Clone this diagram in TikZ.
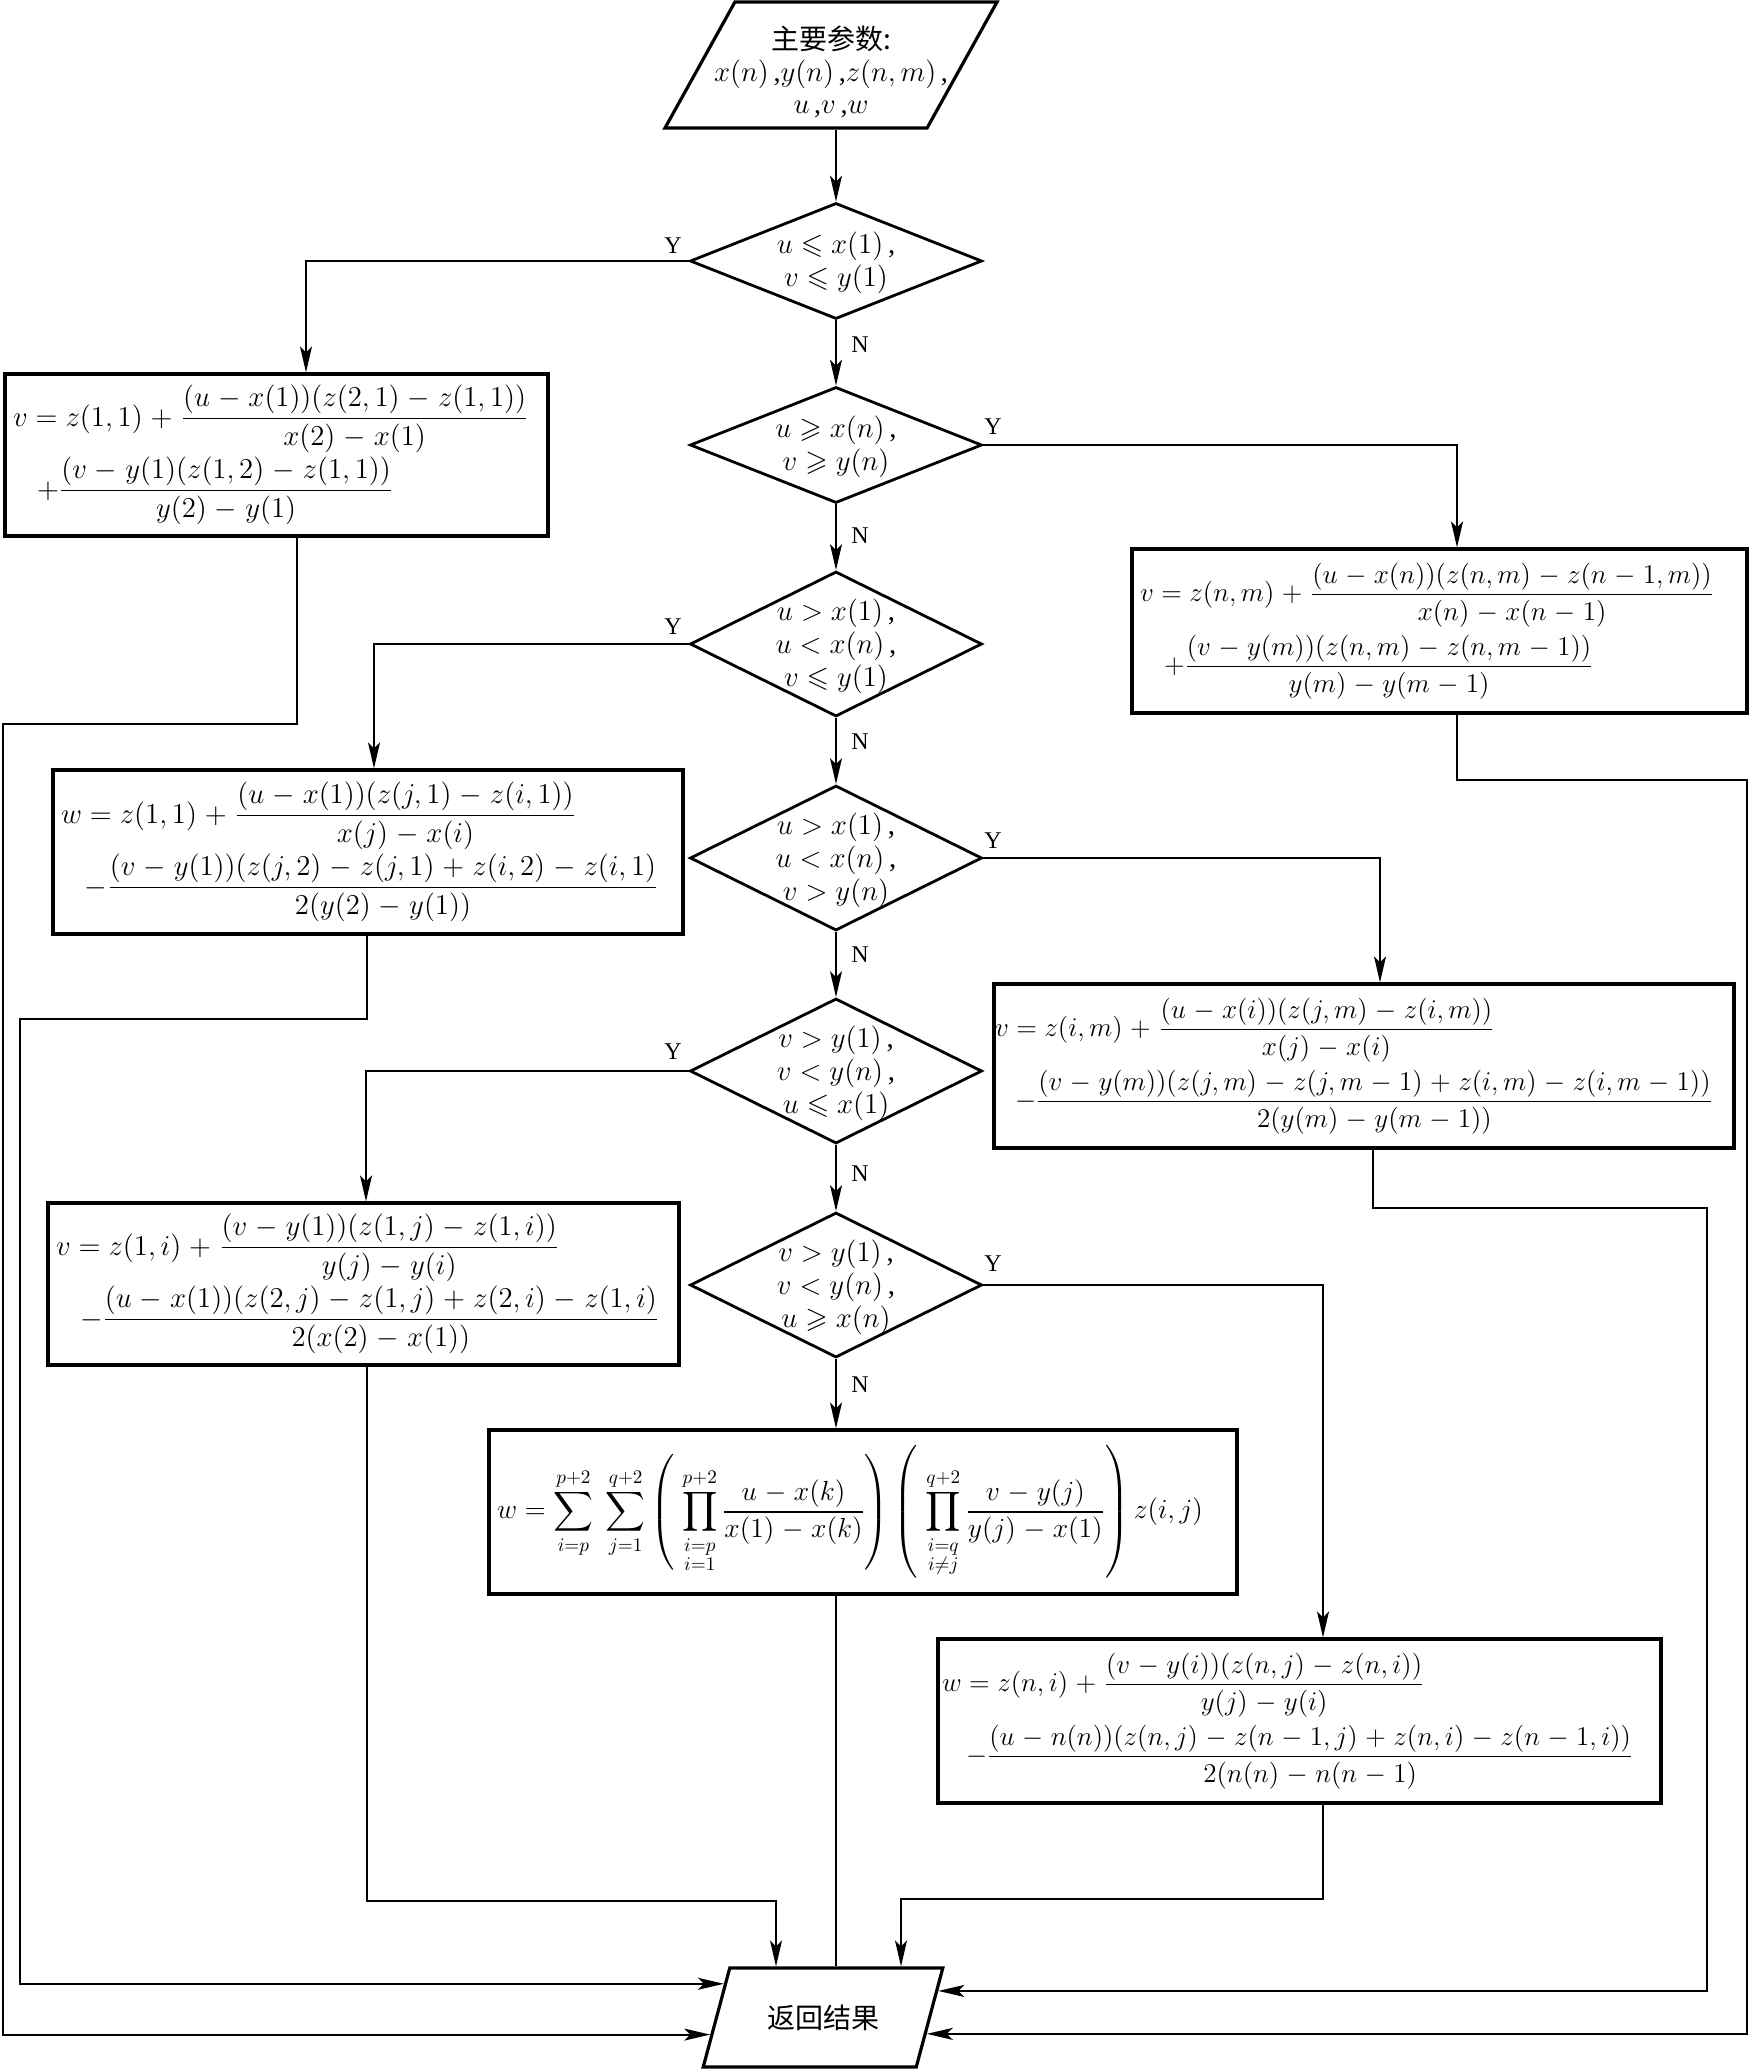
\documentclass[tikz,border=0pt]{standalone}
\usepackage{amsmath,amssymb}
\usepackage{graphicx}
\usepackage{fontspec}
\setmainfont{Liberation Serif}
\newfontfamily\cjk{Noto Sans CJK SC}
\usetikzlibrary{shapes.geometric,arrows.meta,calc}
\medmuskip=5mu plus 2mu minus 2mu
\newcommand{\dtext}[2][-5pt]{\smash{\makebox[0pt]{\raisebox{#1}{\begin{tabular}{@{}c@{}}#2\end{tabular}}}}}
\newcommand{\fl}[1]{\mbox{$#1$}}
\newcommand{\fls}[1]{\scalebox{0.94}{$#1$}}
\tikzset{
  box/.style={draw, line width=1.6pt, inner ysep=0pt, inner xsep=4pt, align=left, font=\fontsize{14.4}{36}\selectfont},
  dec/.style={draw, diamond, line width=1.4pt, inner sep=0.5pt, minimum width=146pt, font=\fontsize{14.4}{16.5}\selectfont},
  io/.style={draw, trapezium, trapezium stretches=true, line width=1.6pt, inner sep=1pt},
  arr/.style={line width=1pt, -{Stealth[length=13pt,width=6pt,inset=3pt]}},
  ln/.style={line width=1pt},
  yn/.style={font=\fontsize{12}{14}\selectfont, inner sep=0pt},
}
\begin{document}
\begin{tikzpicture}[x=0.5pt,y=-0.5pt]
\useasboundingbox (0,0) rectangle (1751,2070);

% input / output
\node[io, trapezium left angle=70, trapezium right angle=110, minimum width=166pt, minimum height=63pt, font=\fontsize{14}{16}\selectfont] (in) at (831,65)
  {\dtext[-8.5pt]{{\cjk 主要参数:}\\ $x(n)$\,,$y(n)$\,,$z(n,m)$\,,\\ $u$\,,$v$\,,$w$}};
\node[io, trapezium left angle=61, trapezium right angle=119, minimum width=120pt, minimum height=49.5pt] (ret) at (823,2017.5)
  {\cjk\fontsize{14}{16}\selectfont 返回结果};

% decisions
\node[dec, minimum height=58pt] (d1) at (836,261) {\dtext{$u\leqslant x(1)$\,,\\ $v\leqslant y(1)$}};
\node[dec, minimum height=58pt] (d2) at (836,445) {\dtext{$u\geqslant x(n)$\,,\\ $v\geqslant y(n)$}};
\node[dec, minimum height=72.5pt] (d3) at (836,644) {\dtext{$u>x(1)$\,,\\ $u<x(n)$\,,\\ $v\leqslant y(1)$}};
\node[dec, minimum height=72.5pt] (d4) at (836,858) {\dtext{$u>x(1)$\,,\\ $u<x(n)$\,,\\ $v>y(n)$}};
\node[dec, minimum height=72.5pt] (d5) at (836,1071) {\dtext{$v>y(1)$\,,\\ $v<y(n)$\,,\\ $u\leqslant x(1)$}};
\node[dec, minimum height=72.5pt] (d6) at (836,1285) {\dtext{$v>y(1)$\,,\\ $v<y(n)$\,,\\ $u\geqslant x(n)$}};

% process boxes
\node[box, text width=263.5pt, minimum height=81pt] (A) at (276.5,455)
  {\fl{v=z(1,1)+\dfrac{(u-x(1))(z(2,1)-z(1,1))}{x(2)-x(1)}}\\
   \hspace*{12pt}\fl{+\dfrac{(v-y(1)(z(1,2)-z(1,1))}{y(2)-y(1)}}};
\node[box, text width=307pt, minimum height=82pt] (B) at (368,852)
  {\fl{w=z(1,1)+\dfrac{(u-x(1))(z(j,1)-z(i,1))}{x(j)-x(i)}}\\
   \hspace*{12pt}\fl{-\dfrac{(v-y(1))(z(j,2)-z(j,1)+z(i,2)-z(i,1)}{2(y(2)-y(1))}}};
\node[box, text width=307.5pt, minimum height=81pt] (C) at (363.5,1284)
  {\fl{v=z(1,i)+\dfrac{(v-y(1))(z(1,j)-z(1,i))}{y(j)-y(i)}}\\
   \hspace*{12pt}\fl{-\dfrac{(u-x(1))(z(2,j)-z(1,j)+z(2,i)-z(1,i)}{2(x(2)-x(1))}}};
\node[box, text width=299.5pt, minimum height=82pt] (R1) at (1439.5,631)
  {\fls{v=z(n,m)+\dfrac{(u-x(n))(z(n,m)-z(n-1,m))}{x(n)-x(n-1)}}\\
   \hspace*{12pt}\fls{+\dfrac{(v-y(m))(z(n,m)-z(n,m-1))}{y(m)-y(m-1)}}};
\node[box, text width=369pt, minimum height=82pt, inner xsep=0.5pt] (R2) at (1364,1066)
  {\fls{v=z(i,m)+\dfrac{(u-x(i))(z(j,m)-z(i,m))}{x(j)-x(i)}}\\
   \hspace*{10pt}\fls{-\dfrac{(v-y(m))(z(j,m)-z(j,m-1)+z(i,m)-z(i,m-1))}{2(y(m)-y(m-1))}}};
\node[box, text width=366pt, minimum height=82pt] (S) at (863,1512)
  {\scalebox{0.96}{$\displaystyle w=\sum_{i=p}^{p+2}\;\sum_{j=1}^{q+2}\left(\;\prod_{\substack{i=p\\ i=1}}^{p+2}\frac{u-x(k)}{x(1)-x(k)}\right)\left(\;\prod_{\substack{i=q\\ i\neq j}}^{q+2}\frac{v-y(j)}{y(j)-x(1)}\right)z(i,j)$}};
\node[box, text width=357.5pt, minimum height=82pt, inner xsep=2pt] (R3) at (1299.5,1721)
  {\fls{w=z(n,i)+\dfrac{(v-y(i))(z(n,j)-z(n,i))}{y(j)-y(i)}}\\
   \hspace*{12pt}\fls{-\dfrac{(u-n(n))(z(n,j)-z(n-1,j)+z(n,i)-z(n-1,i))}{2(n(n)-n(n-1)}}};

% main N chain
\draw[arr] (in.south -| d1.north) -- (d1.north);
\draw[arr] (d1.south) -- (d2.north);
\draw[arr] (d2.south) -- (d3.north);
\draw[arr] (d3.south) -- (d4.north);
\draw[arr] (d4.south) -- (d5.north);
\draw[arr] (d5.south) -- (d6.north);
\draw[arr] (d6.south) -- (d6.south |- S.north);
\node[yn] (n1) at (860,345) {N};
\node[yn] (n2) at (860,536) {N};
\node[yn] (n3) at (860,742) {N};
\node[yn] (n4) at (860,955) {N};
\node[yn] (n5) at (860,1174) {N};
\node[yn] (n6) at (860,1385) {N};

% Y branches
\coordinate (ya) at (306,0);
\coordinate (yr1) at (1457,0);
\coordinate (yb) at (374,0);
\coordinate (yr2) at (1380,0);
\coordinate (yc) at (366,0);
\coordinate (yr3) at (1323,0);
\draw[arr] (d1.west) -| (ya |- A.north);
\draw[arr] (d2.east) -| (yr1 |- R1.north);
\draw[arr] (d3.west) -| (yb |- B.north);
\draw[arr] (d4.east) -| (yr2 |- R2.north);
\draw[arr] (d5.west) -| (yc |- C.north);
\draw[arr] (d6.east) -| (yr3 |- R3.north);
\node[yn] (y1) at (673,246) {Y};
\node[yn] (y2) at (993,427) {Y};
\node[yn] (y3) at (673,627) {Y};
\node[yn] (y4) at (993,841) {Y};
\node[yn] (y5) at (673,1052) {Y};
\node[yn] (y6) at (993,1264) {Y};

% returns
\coordinate (rl1) at ($(ret.bottom left corner)!0.333!(ret.top left corner)$);
\coordinate (rl2) at ($(ret.bottom left corner)!0.83!(ret.top left corner)$);
\coordinate (rr1) at ($(ret.bottom right corner)!0.34!(ret.top right corner)$);
\coordinate (rr2) at ($(ret.bottom right corner)!0.76!(ret.top right corner)$);

\coordinate (ea) at (297,724);  \coordinate (xa) at (3,0);
\draw[arr] (A.south -| ea) -- (ea) -| (xa |- rl1) -- (rl1);
\coordinate (eb) at (367,1019); \coordinate (xb) at (20,0);
\draw[arr] (B.south -| eb) -- (eb) -| (xb |- rl2) -- (rl2);
\coordinate (ec) at (367,1901); \coordinate (tc) at (776,0);
\draw[arr] (C.south -| ec) -- (ec) -| (tc |- ret.north);
\draw[ln] (S.south -| d6.south) -- (ret.north -| d6.south);
\coordinate (er3) at (1323,1899); \coordinate (tr3) at (901,0);
\draw[arr] (R3.south -| er3) -- (er3) -| (tr3 |- ret.north);
\coordinate (er1) at (1457,780); \coordinate (xr1) at (1747,0);
\draw[arr] (R1.south -| er1) -- (er1) -| (xr1 |- rr1) -- (rr1);
\coordinate (er2) at (1373,1208); \coordinate (xr2) at (1707,0);
\draw[arr] (R2.south -| er2) -- (er2) -| (xr2 |- rr2) -- (rr2);
\end{tikzpicture}
\end{document}
